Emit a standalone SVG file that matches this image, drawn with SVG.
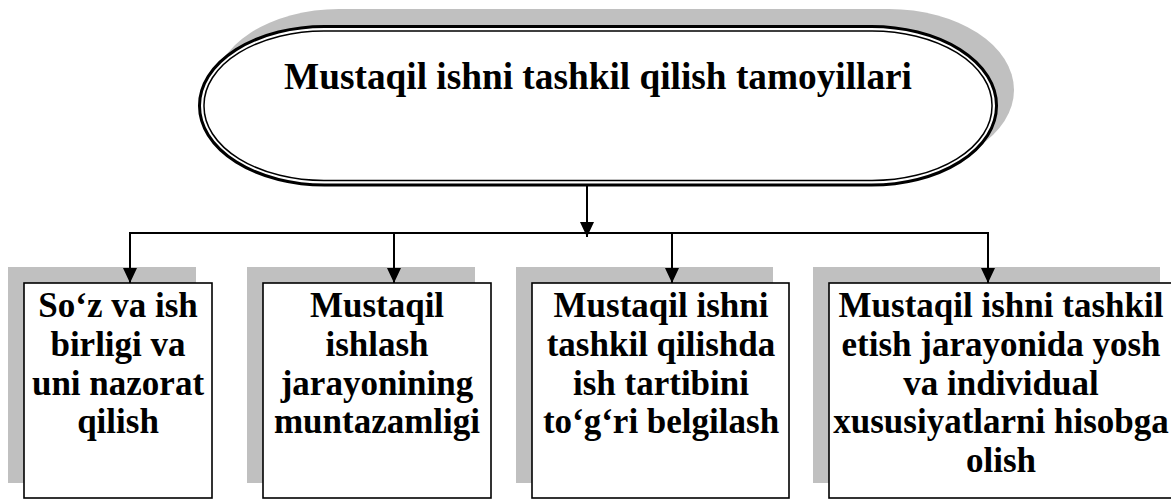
<svg xmlns="http://www.w3.org/2000/svg" width="1171" height="499" viewBox="0 0 1171 499">
<style>
.shadow{fill:#c0c0c0;stroke:none}
.box{fill:#ffffff;stroke:#000000;stroke-width:1.6}
.t{font-family:"Liberation Serif","Times New Roman",serif;font-weight:bold;fill:#000000;text-anchor:middle}
.bt{font-size:35px}
.title{font-size:37.3px}
.conn{stroke:#000000;stroke-width:2;fill:none}
</style>
<defs>
<marker id="arr" markerWidth="15" markerHeight="14" refX="15" refY="7" orient="auto" markerUnits="userSpaceOnUse" viewBox="0 0 15 14">
<path d="M0,0 L15,7 L0,14 Z" fill="#000000"/>
</marker>
</defs>
<g id="top">
<rect class="shadow" x="214" y="9" width="800" height="162" rx="125" ry="81"/>
<rect x="199.5" y="26.5" width="797" height="158.5" rx="125" ry="79" fill="#ffffff" stroke="#000000" stroke-width="3"/>
<rect x="204" y="31" width="788" height="149.5" rx="120" ry="74" fill="none" stroke="#000000" stroke-width="1.5"/>
<text class="t title" x="598" y="89">Mustaqil ishni tashkil qilish tamoyillari</text>
</g>
<g id="box1">
<rect class="shadow" x="8" y="267" width="188" height="216"/>
<rect class="box" x="24" y="283" width="188" height="215"/>
<text class="t bt" x="118"><tspan x="118" y="317">So‘z va ish</tspan><tspan x="118" y="356">birligi va</tspan><tspan x="118" y="395">uni nazorat</tspan><tspan x="118" y="433">qilish</tspan></text>
</g>
<g id="box2">
<rect class="shadow" x="247" y="267" width="228" height="216"/>
<rect class="box" x="263" y="283" width="228" height="215"/>
<text class="t bt" x="377"><tspan x="377" y="317">Mustaqil</tspan><tspan x="377" y="356">ishlash</tspan><tspan x="377" y="395">jarayonining</tspan><tspan x="377" y="433">muntazamligi</tspan></text>
</g>
<g id="box3">
<rect class="shadow" x="516" y="267" width="257" height="216"/>
<rect class="box" x="532" y="283" width="257" height="215"/>
<text class="t bt" x="661"><tspan x="661" y="317">Mustaqil ishni</tspan><tspan x="661" y="356">tashkil qilishda</tspan><tspan x="661" y="395">ish tartibini</tspan><tspan x="661" y="433">to‘g‘ri belgilash</tspan></text>
</g>
<g id="box4">
<rect class="shadow" x="813" y="267" width="347" height="216"/>
<rect class="box" x="829" y="283" width="347" height="215"/>
<text class="t bt" x="1001"><tspan x="1001" y="317">Mustaqil ishni tashkil</tspan><tspan x="1001" y="356">etish jarayonida yosh</tspan><tspan x="1001" y="395">va individual</tspan><tspan x="1001" y="433">xususiyatlarni hisobga</tspan><tspan x="1001" y="472">olish</tspan></text>
</g>
<g id="connectors">
<line class="conn" x1="587" y1="186" x2="587" y2="237" marker-end="url(#arr)"/>
<polyline class="conn" points="129,233 989,233"/>
<line class="conn" x1="130" y1="232" x2="130" y2="283" marker-end="url(#arr)"/>
<line class="conn" x1="394" y1="233" x2="394" y2="283" marker-end="url(#arr)"/>
<line class="conn" x1="672" y1="233" x2="672" y2="283" marker-end="url(#arr)"/>
<line class="conn" x1="988" y1="232" x2="988" y2="283" marker-end="url(#arr)"/>
</g>
</svg>
